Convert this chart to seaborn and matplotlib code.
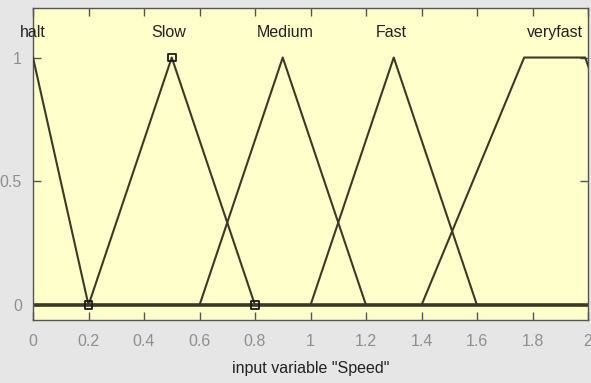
"""
Fuzzy membership functions for the input variable "Speed" (MATLAB mfedit look).
"""

import numpy as np
import pandas as pd
import matplotlib
matplotlib.use("Agg")
import matplotlib.pyplot as plt
import seaborn as sns

sns.set_style('ticks')
plt.rcParams['font.family'] = ['Liberation Sans', 'DejaVu Sans']

# --- membership function breakpoints (x) and grades (mu) ---
mf_names = ["halt", "Slow", "Medium", "Fast", "veryfast"]
halt_x = [-0.2, 0.0, 0.2]
halt_mu = [0.0, 1.0, 0.0]
slow_x = [0.2, 0.5, 0.8]
slow_mu = [0.0, 1.0, 0.0]
medium_x = [0.6, 0.9, 1.2]
medium_mu = [0.0, 1.0, 0.0]
fast_x = [1.0, 1.3, 1.6]
fast_mu = [0.0, 1.0, 0.0]
veryfast_x = [1.4, 1.77, 1.99, 2.3]
veryfast_mu = [0.0, 1.0, 1.0, 0.0]

# label anchor positions above each MF
label_x = [0.0, 0.49, 0.91, 1.29, 1.88]
label_y = 1.1

x_ticks = [0, 0.2, 0.4, 0.6, 0.8, 1, 1.2, 1.4, 1.6, 1.8, 2]
x_ticklabels = ["0", "0.2", "0.4", "0.6", "0.8", "1", "1.2", "1.4", "1.6", "1.8", "2"]
y_ticks = [0, 0.5, 1]
y_ticklabels = ["0", "0.5", "1"]

all_x = [halt_x, slow_x, medium_x, fast_x, veryfast_x]
all_mu = [halt_mu, slow_mu, medium_mu, fast_mu, veryfast_mu]
records = []
for name, xs, mus in zip(mf_names, all_x, all_mu):
    for i, (xv, mv) in enumerate(zip(xs, mus)):
        records.append({"mf": name, "x": xv, "mu": mv, "order": i})
df = pd.DataFrame.from_records(records)

LINE = "#3a3a26"
fig = plt.figure(figsize=(5.91, 3.83), dpi=100, facecolor="#e6e6e6")
ax = fig.add_axes([33 / 591, 63 / 383, 555 / 591, 312 / 383])
ax.set_facecolor("#ffffcc")

# baseline at zero
ax.axhline(0, color=LINE, lw=2.6, zorder=2)

sns.lineplot(
    data=df, x="x", y="mu", hue="mf", units="mf",
    estimator=None, sort=False,
    palette={n: LINE for n in mf_names},
    lw=1.5, legend=False, ax=ax, zorder=3,
)

# selected MF (Slow) vertex markers
sel = df[df.mf == "Slow"]
sns.scatterplot(
    data=sel, x="x", y="mu", marker="s", s=30,
    facecolor="none", edgecolor="#1a1a1a", linewidth=1.3,
    legend=False, ax=ax, zorder=4,
)

for name, lx in zip(mf_names, label_x):
    ax.text(lx, label_y, name, ha="center", va="center",
            fontsize=11.5, color="#222222")

ax.set_xlim(0, 2)
ax.set_ylim(-0.06, 1.2)
ax.set_xticks(x_ticks)
ax.set_xticklabels(x_ticklabels)
ax.set_yticks(y_ticks)
ax.set_yticklabels(y_ticklabels)
ax.tick_params(axis="both", direction="in", length=6, width=1,
               color="#555555", labelcolor="#8f8f8f", labelsize=11.5,
               top=True, right=True)
ax.tick_params(axis="x", pad=10)
ax.tick_params(axis="y", pad=8)
for side in ax.spines.values():
    side.set_color("#555555")
    side.set_linewidth(1)

ax.set_xlabel('input variable "Speed"', fontsize=11.5, color="#222222", labelpad=9)
ax.set_ylabel("")

fig.savefig("out.png", dpi=100, facecolor=fig.get_facecolor())
plt.close(fig)
